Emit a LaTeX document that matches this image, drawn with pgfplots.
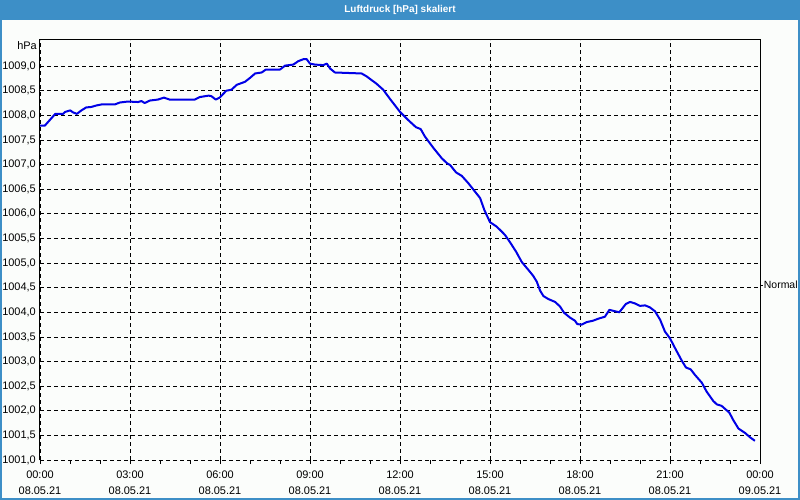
\documentclass[border=0pt]{standalone}
\usepackage{pgfplots}
\pgfplotsset{compat=1.18}
\usepackage{fontspec}
\setmainfont{Liberation Sans}
\definecolor{titleblue}{RGB}{61,143,199}
\definecolor{bgc}{RGB}{251,253,251}
\definecolor{curve}{RGB}{0,0,230}
\begin{document}
\begin{tikzpicture}
\useasboundingbox (0bp,0bp) rectangle (800bp,500bp);
\fill[bgc] (0bp,0bp) rectangle (800bp,500bp);
\fill[titleblue] (0bp,480bp) rectangle (800bp,500bp);
\node[text=white,font=\fontsize{10}{11}\selectfont\bfseries] at (400bp,490bp) {Luftdruck [hPa] skaliert};
\draw[titleblue,line width=2bp] (1bp,1bp) rectangle (799bp,499bp);
\begin{axis}[
  at={(40bp,40bp)}, anchor=south west,
  scale only axis, width=720bp, height=420bp,
  xmin=0, xmax=24, ymin=1001, ymax=1009.53,
  clip=false,
  axis line style={draw=none},
  xtick={0,3,...,24},
  xticklabels={{00:00\\08.05.21},{03:00\\08.05.21},{06:00\\08.05.21},{09:00\\08.05.21},{12:00\\08.05.21},{15:00\\08.05.21},{18:00\\08.05.21},{21:00\\08.05.21},{00:00\\09.05.21}},
  minor x tick num=2,
  ytick={1001,1001.5,...,1009},
  tick align=outside,
  xtick pos=bottom, ytick pos=left,
  major tick length=4bp, minor tick length=4bp,
  ytick style={draw=none},
  x tick style={black, line width=0.8bp},
  xmajorgrids, ymajorgrids,
  major grid style={black, line width=0.8bp, dash pattern=on 4bp off 3bp},
  xticklabel style={align=center, inner sep=0pt, yshift=-6.7bp, font=\fontsize{11}{15.7}\selectfont},
  yticklabel style={anchor=east, inner sep=0pt, font=\fontsize{11}{13}\selectfont},
  /pgf/number format/.cd, fixed, fixed zerofill, precision=1, use comma, 1000 sep={}, assume math mode=true,
]
\addplot[curve, line width=2bp, line join=round] table {
t v
0.00 1007.79
0.16 1007.79
0.51 1008.03
0.77 1008.03
0.84 1008.07
1.01 1008.10
1.10 1008.06
1.23 1008.03
1.38 1008.10
1.54 1008.16
1.71 1008.17
1.88 1008.20
2.04 1008.22
2.49 1008.22
2.66 1008.26
2.93 1008.28
3.27 1008.27
3.38 1008.29
3.49 1008.25
3.66 1008.30
3.93 1008.32
4.13 1008.36
4.32 1008.32
5.16 1008.32
5.32 1008.37
5.62 1008.40
5.71 1008.39
5.86 1008.32
5.99 1008.36
6.21 1008.50
6.38 1008.52
6.56 1008.62
6.83 1008.68
7.00 1008.76
7.17 1008.85
7.39 1008.87
7.53 1008.93
8.00 1008.93
8.17 1009.01
8.44 1009.03
8.61 1009.10
8.78 1009.14
8.89 1009.14
9.00 1009.05
9.17 1009.03
9.44 1009.02
9.56 1009.05
9.67 1008.95
9.83 1008.87
10.72 1008.85
10.89 1008.79
11.22 1008.64
11.44 1008.52
11.67 1008.33
12.00 1008.07
12.28 1007.90
12.53 1007.76
12.69 1007.72
12.83 1007.57
13.11 1007.34
13.39 1007.13
13.56 1007.03
13.67 1006.99
13.87 1006.84
14.06 1006.77
14.28 1006.62
14.50 1006.45
14.67 1006.32
14.81 1006.08
15.00 1005.83
15.22 1005.74
15.39 1005.64
15.50 1005.57
15.67 1005.42
15.87 1005.23
16.06 1005.02
16.28 1004.86
16.44 1004.74
16.56 1004.62
16.67 1004.44
16.78 1004.33
16.94 1004.27
17.17 1004.21
17.33 1004.12
17.47 1003.99
17.67 1003.89
17.83 1003.83
17.91 1003.76
18.06 1003.75
18.22 1003.80
18.44 1003.83
18.61 1003.87
18.83 1003.91
18.98 1004.05
19.11 1004.03
19.31 1004.00
19.53 1004.17
19.67 1004.21
19.83 1004.18
20.00 1004.13
20.17 1004.14
20.33 1004.10
20.50 1004.02
20.67 1003.85
20.83 1003.61
21.00 1003.47
21.17 1003.27
21.39 1003.02
21.53 1002.88
21.69 1002.84
21.83 1002.73
22.06 1002.57
22.22 1002.39
22.44 1002.20
22.56 1002.13
22.72 1002.10
22.98 1001.96
23.11 1001.81
23.28 1001.64
23.50 1001.55
23.67 1001.46
23.83 1001.39
};
\draw[black, line width=1bp] (rel axis cs:0,0) -- (rel axis cs:0,1) -- (rel axis cs:1,1) -- (rel axis cs:1,0);
\draw[black, line width=0.8bp] (axis cs:24,1004.55) -- ++(3bp,0bp) node[right, inner sep=0.5bp, font=\fontsize{10.5}{12}\selectfont] {Normal};
\end{axis}
\node[anchor=east, inner sep=0pt, font=\fontsize{11}{13}\selectfont] at (37bp,454bp) {hPa};
\end{tikzpicture}
\end{document}
